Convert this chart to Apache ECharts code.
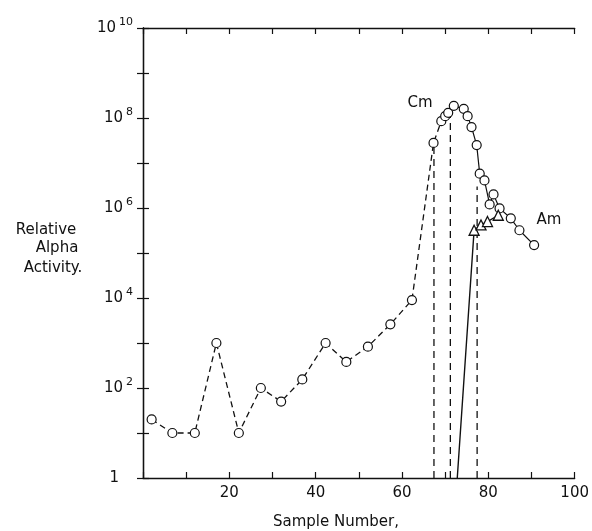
<!DOCTYPE html>
<html>
<head>
<meta charset="utf-8">
<script src="https://cdn.jsdelivr.net/npm/echarts@6/dist/echarts.min.js"></script>
<style>
  html, body { margin: 0; padding: 0; background: #fff; }
  #main { width: 592px; height: 531px; }
</style>
</head>
<body>
<div id="main"></div>
<script>
// Cm, dashed part (rising side, up to the peak)
var cmDashX = [2, 6.8, 12, 17, 22.2, 27.3, 32, 36.9, 42.3, 47.1, 52.1, 57.3, 62.3, 67.3, 69.1, 70, 70.7, 72];
var cmDashY = [20, 10, 10, 1000, 10, 100, 50, 155, 1000, 380, 830, 2600, 9000, 2.8e7, 8.5e7, 1.1e8, 1.3e8, 1.86e8];
// Cm, solid part (falling side)
var cmSolidX = [72, 74.3, 75.2, 76.1, 77.3, 78, 79.1, 80.3, 81.2, 82.6, 85.2, 87.2, 90.6];
var cmSolidY = [1.86e8, 1.6e8, 1.1e8, 6.3e7, 2.5e7, 5.8e6, 4.1e6, 1.2e6, 2e6, 9.8e5, 5.9e5, 3.2e5, 1.5e5];
// Am (triangles), line starts at the bottom of the plot
var amX = [72.8, 76.7, 78.3, 79.8, 82.3];
var amY = [1, 3.2e5, 4.2e5, 5e5, 6.9e5];
// vertical dashed cut lines
var dropX = [67.4, 71.2, 77.4];
var dropTop = [2.8e7, 1.4e8, 3e6];

var xTickLabels = [20, 40, 60, 80, 100];

var myChart = echarts.init(document.getElementById('main'));

function pairs(xs, ys, noSymbolIdx) {
  return xs.map(function(x, i) {
    var item = { value: [x, ys[i]] };
    if (noSymbolIdx.indexOf(i) >= 0) item.symbol = 'none';
    return item;
  });
}

var font = '"DejaVu Sans", sans-serif';

var series = [
  {
    type: 'line', name: 'Cm dashed',
    data: pairs(cmDashX, cmDashY, []),
    symbol: 'circle', symbolSize: 9,
    itemStyle: { color: '#fff', borderColor: '#111', borderWidth: 1.2 },
    lineStyle: { color: '#111', width: 1.3, type: [6, 4] },
    z: 3
  },
  {
    type: 'line', name: 'Cm solid',
    data: pairs(cmSolidX, cmSolidY, [0]),
    symbol: 'circle', symbolSize: 9,
    itemStyle: { color: '#fff', borderColor: '#111', borderWidth: 1.2 },
    lineStyle: { color: '#111', width: 1.2 },
    z: 3
  },
  {
    type: 'line', name: 'Am',
    data: pairs(amX, amY, [0]),
    symbol: 'triangle', symbolSize: 10,
    itemStyle: { color: '#fff', borderColor: '#111', borderWidth: 1.3 },
    lineStyle: { color: '#111', width: 1.4 },
    z: 4
  }
];

dropX.forEach(function(x, i) {
  series.push({
    type: 'line',
    data: [[x, 1], [x, dropTop[i]]],
    symbol: 'none',
    lineStyle: { color: '#111', width: 1.3, type: [7, 5] },
    z: 2
  });
});

var option = {
  animation: false,
  backgroundColor: '#fff',
  grid: { left: 143, top: 28, width: 434, height: 450 },
  xAxis: [
    {
      type: 'value', min: 0, max: 100, interval: 10,
      axisLine: { lineStyle: { color: '#111', width: 1.3 } },
      axisTick: { inside: true, length: 6, lineStyle: { color: '#111', width: 1.2 } },
      splitLine: { show: false },
      axisLabel: {
        margin: 8, color: '#111', fontSize: 15, fontFamily: font,
        formatter: function(v) { return xTickLabels.indexOf(v) >= 0 ? String(v) : ''; }
      }
    },
    {
      type: 'value', position: 'top', min: 0, max: 100, interval: 10,
      axisLine: { lineStyle: { color: '#111', width: 1.3 } },
      axisTick: { inside: true, length: 6, lineStyle: { color: '#111', width: 1.2 } },
      splitLine: { show: false },
      axisLabel: { show: false }
    }
  ],
  yAxis: [
    {
      type: 'log', logBase: 10, min: 1, max: 1e10, interval: 1,
      axisLine: { lineStyle: { color: '#111', width: 1.3 } },
      axisTick: { inside: true, length: 6, lineStyle: { color: '#111', width: 1.2 } },
      splitLine: { show: false },
      minorTick: { show: false },
      axisLabel: {
        margin: 10, color: '#111', fontFamily: font,
        formatter: function(v) {
          var e = Math.round(Math.log(v) / Math.LN10);
          if (e % 2 !== 0) return '';
          if (e === 0) return '{o|1}';
          return '{b|10}{s|' + e + '}';
        },
        rich: {
          o: { fontSize: 15, color: '#111', fontFamily: font, padding: [0, 14, 0, 0] },
          b: { fontSize: 15, color: '#111', fontFamily: font },
          s: { fontSize: 11, color: '#111', fontFamily: font, verticalAlign: 'bottom', padding: [0, 0, 11, 3] }
        }
      }
    },
    {
      type: 'log', logBase: 10, min: 1, max: 1e10, interval: 1, position: 'right',
      axisLine: { lineStyle: { color: '#111', width: 1.3 } },
      axisTick: { inside: true, length: 6, lineStyle: { color: '#111', width: 1.2 } },
      splitLine: { show: false },
      axisLabel: { show: false }
    }
  ],
  graphic: [
    { type: 'text', x: 46, y: 230, style: { text: 'Relative', font: '15px ' + font, fill: '#111', textAlign: 'center', textVerticalAlign: 'middle' } },
    { type: 'text', x: 57, y: 248, style: { text: 'Alpha', font: '15px ' + font, fill: '#111', textAlign: 'center', textVerticalAlign: 'middle' } },
    { type: 'text', x: 53, y: 268, style: { text: 'Activity.', font: '15px ' + font, fill: '#111', textAlign: 'center', textVerticalAlign: 'middle' } },
    { type: 'text', x: 336, y: 522, style: { text: 'Sample Number,', font: '15px ' + font, fill: '#111', textAlign: 'center', textVerticalAlign: 'middle' } },
    { type: 'text', x: 420, y: 103, style: { text: 'Cm', font: '15px ' + font, fill: '#111', textAlign: 'center', textVerticalAlign: 'middle' } },
    { type: 'text', x: 549, y: 220, style: { text: 'Am', font: '15px ' + font, fill: '#111', textAlign: 'center', textVerticalAlign: 'middle' } }
  ],
  series: series
};

myChart.setOption(option);
</script>
</body>
</html>
